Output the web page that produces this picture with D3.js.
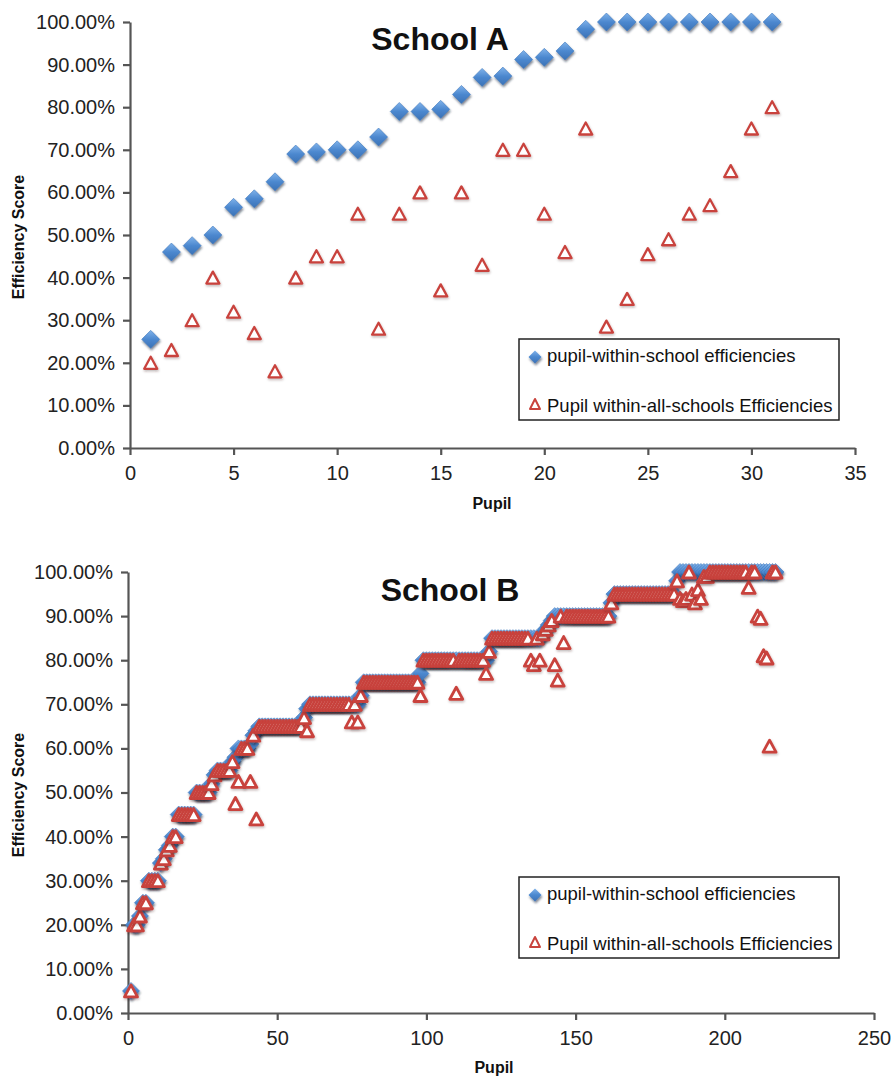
<!DOCTYPE html>
<html>
<head>
<meta charset="utf-8">
<script src="https://cdn.jsdelivr.net/npm/d3@7"></script>
<style>
  body { margin: 0; background: #fff; }
  svg { display: block; font-family: "Liberation Sans", Arial, Helvetica, sans-serif; }
</style>
</head>
<body>
<svg id="chart" width="893" height="1078"></svg>
<script>
// ---- data (efficiency in %, one value per pupil) ----
const schoolAWithin = [25.5, 46, 47.5, 50, 56.5, 58.5, 62.5, 69, 69.5, 70,
  70, 73, 79, 79, 79.5, 83, 87, 87.3, 91.2, 91.7,
  93.2, 98.3, 100, 100, 100, 100, 100, 100, 100, 100,
  100];
const schoolAAll = [20, 23, 30, 40, 32, 27, 18, 40, 45, 45,
  55, 28, 55, 60, 37, 60, 43, 70, 70, 55,
  46, 75, 28.5, 35, 45.5, 49, 55, 57, 65, 75,
  80];

const schoolBWithin = [
  5, 20, 20, 22, 25, 25, 30, 30, 30, 30,
  34, 35, 37, 38, 40, 40, 45, 45, 45, 45,
  45, 45, 50, 50, 50, 50, 50, 52, 54, 55,
  55, 55, 55, 55, 57, 58, 60, 60, 60, 60,
  61, 63, 64, 65, 65, 65, 65, 65, 65, 65,
  65, 65, 65, 65, 65, 65, 65, 65, 67, 69,
  70, 70, 70, 70, 70, 70, 70, 70, 70, 70,
  70, 70, 70, 70, 70, 70, 70, 72, 75, 75,
  75, 75, 75, 75, 75, 75, 75, 75, 75, 75,
  75, 75, 75, 75, 75, 75, 75, 77, 80, 80,
  80, 80, 80, 80, 80, 80, 80, 80, 80, 80,
  80, 80, 80, 80, 80, 80, 80, 80, 80, 80,
  82, 85, 85, 85, 85, 85, 85, 85, 85, 85,
  85, 85, 85, 85, 85, 85, 85, 85, 86, 87,
  88, 89, 90, 90, 90, 90, 90, 90, 90, 90,
  90, 90, 90, 90, 90, 90, 90, 90, 90, 90,
  90, 93, 95, 95, 95, 95, 95, 95, 95, 95,
  95, 95, 95, 95, 95, 95, 95, 95, 95, 95,
  95, 95, 95, 98, 100, 100, 100, 100, 100, 100,
  100, 100, 100, 100, 100, 100, 100, 100, 100, 100,
  100, 100, 100, 100, 100, 100, 100, 100, 100, 100,
  100, 100, 100, 100, 100, 100, 100];
const schoolBAll = [
  5, 20, 20, 22, 25, 25, 30, 30, 30, 30,
  34, 35, 37, 38, 40, 40, 45, 45, 45, 45,
  45, 45, 50, 50, 50, 50, 50, 52, 54, 55,
  55, 55, 55, 55, 57, 47.5, 52.5, 60, 60, 60,
  52.5, 63, 44, 65, 65, 65, 65, 65, 65, 65,
  65, 65, 65, 65, 65, 65, 65, 65, 67, 64,
  70, 70, 70, 70, 70, 70, 70, 70, 70, 70,
  70, 70, 70, 70, 66, 70, 66, 72, 75, 75,
  75, 75, 75, 75, 75, 75, 75, 75, 75, 75,
  75, 75, 75, 75, 75, 75, 75, 72, 80, 80,
  80, 80, 80, 80, 80, 80, 80, 80, 80, 72.5,
  80, 80, 80, 80, 80, 80, 80, 80, 80, 77,
  82, 85, 85, 85, 85, 85, 85, 85, 85, 85,
  85, 85, 85, 85, 80, 79, 85, 80, 86, 87,
  88, 89, 79, 75.5, 90, 84, 90, 90, 90, 90,
  90, 90, 90, 90, 90, 90, 90, 90, 90, 90,
  90, 93, 95, 95, 95, 95, 95, 95, 95, 95,
  95, 95, 95, 95, 95, 95, 95, 95, 95, 95,
  95, 95, 95, 98, 94, 93.5, 94, 100, 95, 93,
  96, 94, 99, 99, 100, 100, 100, 100, 100, 100,
  100, 100, 100, 100, 100, 100, 100, 96.5, 100, 100,
  90, 89.5, 81, 80.5, 60.5, 100, 100];

const yTicks = [0, 10, 20, 30, 40, 50, 60, 70, 80, 90, 100];
const xTicksA = [0, 5, 10, 15, 20, 25, 30, 35];
const xTicksB = [0, 50, 100, 150, 200, 250];
const legendLabels = ["pupil-within-school efficiencies", "Pupil within-all-schools Efficiencies"];

const svg = d3.select("#chart");
const defs = svg.append("defs");

// blue diamond fill: light on top, darker below
const grad = defs.append("linearGradient").attr("id", "blueFill")
  .attr("x1", 0).attr("y1", 0).attr("x2", 0).attr("y2", 1);
grad.append("stop").attr("offset", "0%").attr("stop-color", "#7fb2ea");
grad.append("stop").attr("offset", "50%").attr("stop-color", "#4c88cf");
grad.append("stop").attr("offset", "100%").attr("stop-color", "#3b72b6");

defs.append("filter").attr("id", "shadowBlue")
  .attr("x", "-50%").attr("y", "-50%").attr("width", "200%").attr("height", "200%")
  .append("feDropShadow").attr("dx", 0.8).attr("dy", 2).attr("stdDeviation", 1.1)
  .attr("flood-color", "#142236").attr("flood-opacity", 0.55);
defs.append("filter").attr("id", "shadowRed")
  .attr("x", "-50%").attr("y", "-50%").attr("width", "200%").attr("height", "200%")
  .append("feDropShadow").attr("dx", 0.6).attr("dy", 1.5).attr("stdDeviation", 1)
  .attr("flood-color", "#3a1a1a").attr("flood-opacity", 0.3);

const diamondPath = s => `M0,${-s}L${s},0L0,${s}L${-s},0Z`;
const trianglePath = (w, h) => `M0,${-h / 2}L${w},${h / 2}L${-w},${h / 2}Z`;

const RED = "#c9433d";

function drawPanel(cfg) {
  const x = d3.scaleLinear().domain(cfg.xDomain).range([cfg.left, cfg.right]);
  const y = d3.scaleLinear().domain([0, 100]).range([cfg.bottom, cfg.top]);
  const g = svg.append("g");

  // axes
  const yAxis = g.append("g")
    .attr("transform", `translate(${cfg.left},0)`)
    .call(d3.axisLeft(y).tickValues(yTicks)
      .tickFormat(d => d3.format(".2f")(d) + "%")
      .tickSize(7).tickSizeOuter(0).tickPadding(8));
  const xAxis = g.append("g")
    .attr("transform", `translate(0,${cfg.bottom})`)
    .call(d3.axisBottom(x).tickValues(cfg.xTicks)
      .tickSize(7).tickSizeOuter(0).tickPadding(11));
  [yAxis, xAxis].forEach(a => {
    a.select(".domain").attr("stroke", "#555").attr("stroke-width", 2.2);
    a.selectAll(".tick line").attr("stroke", "#555").attr("stroke-width", 2.2);
    a.selectAll(".tick text").attr("fill", "#222").style("font-size", "20px");
  });

  // titles
  g.append("text").attr("x", cfg.titleX).attr("y", cfg.titleY)
    .attr("text-anchor", "middle").attr("font-weight", "bold")
    .style("font-size", "32px").attr("fill", "#111").text(cfg.title);
  g.append("text")
    .attr("transform", `translate(${cfg.yLabelX},${cfg.yLabelY}) rotate(-90)`)
    .attr("text-anchor", "middle").attr("font-weight", "bold")
    .style("font-size", "16px").attr("fill", "#111").text("Efficiency Score");
  g.append("text").attr("x", cfg.xLabelX).attr("y", cfg.xLabelY)
    .attr("text-anchor", "middle").attr("font-weight", "bold")
    .style("font-size", "16px").attr("fill", "#111").text("Pupil");

  // series 1: blue diamonds
  g.append("g").selectAll("path")
    .data(cfg.within)
    .join("path")
    .attr("d", diamondPath(cfg.dSize))
    .attr("transform", (d, i) => `translate(${x(i + 1)},${y(d)})`)
    .attr("fill", "url(#blueFill)")
    .attr("stroke", "#3f78bd").attr("stroke-width", 0.6)
    .attr("filter", "url(#shadowBlue)");

  // series 2: red open triangles
  g.append("g").selectAll("path")
    .data(cfg.all)
    .join("path")
    .attr("d", trianglePath(cfg.tW, cfg.tH))
    .attr("transform", (d, i) => `translate(${x(i + 1)},${y(d)})`)
    .attr("fill", "#fff")
    .attr("stroke", RED).attr("stroke-width", cfg.tStroke)
    .attr("stroke-linejoin", "round")
    .attr("filter", "url(#shadowRed)");

  // legend
  const lg = g.append("g").attr("transform", `translate(${cfg.legX},${cfg.legY})`);
  lg.append("rect").attr("width", 320).attr("height", 81)
    .attr("fill", "#fff").attr("stroke", "#222").attr("stroke-width", 1.5);
  lg.append("path").attr("d", diamondPath(6.5))
    .attr("transform", "translate(16,18)")
    .attr("fill", "url(#blueFill)").attr("filter", "url(#shadowBlue)");
  lg.append("path").attr("d", trianglePath(5, 10))
    .attr("transform", "translate(16,65)")
    .attr("fill", "#fff").attr("stroke", RED).attr("stroke-width", 2)
    .attr("stroke-linejoin", "round");
  lg.selectAll("text.leg")
    .data(legendLabels)
    .join("text").attr("class", "leg")
    .attr("x", 28).attr("y", (d, i) => 23 + i * 50)
    .style("font-size", "18.5px").attr("fill", "#111")
    .text(d => d);
}

drawPanel({
  title: "School A", titleX: 440, titleY: 50,
  xDomain: [0, 35], xTicks: xTicksA,
  left: 130, right: 855, top: 22, bottom: 448,
  within: schoolAWithin, all: schoolAAll,
  dSize: 9, tW: 6.5, tH: 12, tStroke: 2.3,
  yLabelX: 24, yLabelY: 237, xLabelX: 492, xLabelY: 509,
  legX: 519, legY: 339
});

drawPanel({
  title: "School B", titleX: 450, titleY: 601,
  xDomain: [0, 250], xTicks: xTicksB,
  left: 128, right: 874, top: 572, bottom: 1013,
  within: schoolBWithin, all: schoolBAll,
  dSize: 8.5, tW: 6.5, tH: 12, tStroke: 2.8,
  yLabelX: 24, yLabelY: 795, xLabelX: 494, xLabelY: 1073,
  legX: 519, legY: 877
});
</script>
</body>
</html>
